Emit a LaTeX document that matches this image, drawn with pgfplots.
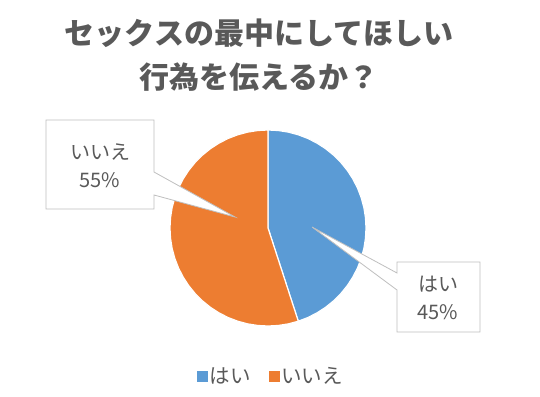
\documentclass[border=0pt]{standalone}
\usepackage{fontspec}
\setmainfont{Noto Sans CJK JP}
\usepackage{pgfplots}
\pgfplotsset{compat=1.18}
\definecolor{cblue}{HTML}{5B9BD5}
\definecolor{corange}{HTML}{ED7D31}
\definecolor{ctext}{HTML}{595959}
\definecolor{cbox}{HTML}{BFBFBF}
\begin{document}
\begin{tikzpicture}
\begin{axis}[
  width=540pt, height=396pt, scale only axis,
  xmin=-268, xmax=272, ymin=-168, ymax=228,
  hide axis, clip=false,
  legend style={draw=none, fill=none, at={(0.502,0.0505)}, anchor=center,
    font=\fontsize{20.5}{22}\selectfont\color{ctext},
    legend columns=2,
    /tikz/every even column/.append style={column sep=16pt}},
]
\path (rel axis cs:0,0) rectangle (rel axis cs:1,1);
% pie slices: はい 45%, いいえ 55% (polar: angle in degrees, radius)
\addplot[forget plot, fill=cblue, draw=white, line width=1.2pt, data cs=polar] coordinates {
 (0,0) (90,98) (84,98) (78,98) (72,98) (66,98) (60,98) (54,98) (48,98) (42,98) (36,98)
 (30,98) (24,98) (18,98) (12,98) (6,98) (0,98) (-6,98) (-12,98) (-18,98) (-24,98)
 (-30,98) (-36,98) (-42,98) (-48,98) (-54,98) (-60,98) (-66,98) (-72,98) (0,0)} -- cycle;
\addplot[forget plot, fill=corange, draw=white, line width=1.2pt, data cs=polar] coordinates {
 (0,0) (-72,98) (-78,98) (-84,98) (-90,98) (-96,98) (-102,98) (-108,98) (-114,98) (-120,98)
 (-126,98) (-132,98) (-138,98) (-144,98) (-150,98) (-156,98) (-162,98) (-168,98) (-174,98)
 (-180,98) (-186,98) (-192,98) (-198,98) (-204,98) (-210,98) (-216,98) (-222,98) (-228,98)
 (-234,98) (-240,98) (-246,98) (-252,98) (-258,98) (-264,98) (-270,98) (0,0)} -- cycle;
% callouts
\addplot[forget plot, fill=white, draw=cbox, line width=0.8pt] coordinates {
 (-222,108) (-114,108) (-114,56) (-33,11) (-114,33) (-114,19) (-222,19)} -- cycle;
\addplot[forget plot, fill=white, draw=cbox, line width=0.8pt] coordinates {
 (129,-34) (212,-34) (212,-104) (129,-104) (129,-62) (44,1) (129,-45)} -- cycle;
\node[text=ctext, font=\fontsize{20}{22}\selectfont] at (axis cs:-168,76) {いいえ};
\node[text=ctext, font=\fontsize{20}{22}\selectfont] at (axis cs:-168,48) {55\%};
\node[text=ctext, font=\fontsize{20}{22}\selectfont] at (axis cs:170,-56) {はい};
\node[text=ctext, font=\fontsize{20}{22}\selectfont] at (axis cs:170,-84) {45\%};
% title
\node[text=ctext, font=\fontsize{30}{32}\selectfont\bfseries] at (axis cs:-9,195) {セックスの最中にしてほしい};
\node[text=ctext, font=\fontsize{30}{32}\selectfont\bfseries] at (axis cs:-9,151) {行為を伝えるか？};
% legend
\addlegendimage{legend image code/.code={\fill[cblue] (0pt,-5pt) rectangle (10pt,5pt);}}
\addlegendentry{はい}
\addlegendimage{legend image code/.code={\fill[corange] (0pt,-5pt) rectangle (10pt,5pt);}}
\addlegendentry{いいえ}
\end{axis}
\end{tikzpicture}
\end{document}
